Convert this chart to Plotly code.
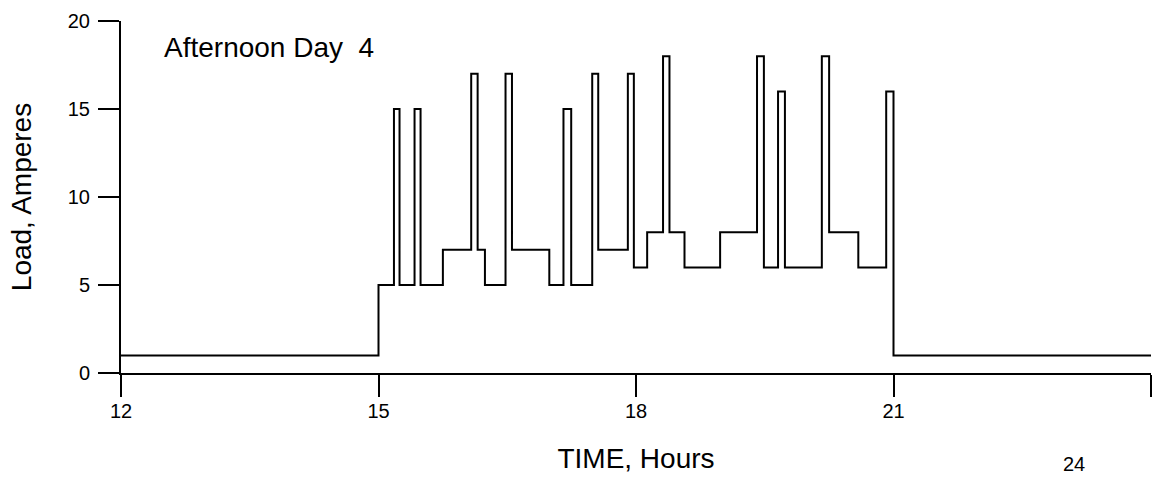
import plotly.graph_objects as go

# Step-change times (hours) and the load level (amperes) that starts at each time
times = [12, 15.0, 15.18, 15.245, 15.42, 15.49, 15.75, 16.08, 16.155, 16.24,
         16.48, 16.555, 16.99, 17.155, 17.245, 17.49, 17.56, 17.905, 17.975,
         18.13, 18.315, 18.39, 18.565, 18.98, 19.41, 19.49, 19.655, 19.735,
         20.165, 20.25, 20.59, 20.915, 21.0, 24]
loads = [1, 5, 15, 5, 15, 5, 7, 17, 7, 5,
         17, 7, 5, 15, 5, 17, 7, 17, 6,
         8, 18, 8, 6, 8, 18, 6, 16, 6,
         18, 8, 6, 16, 1, 1]

x_tickvals = [12, 15, 18, 21, 24]
x_ticktext = ["12", "15", "18", "21", ""]
y_tickvals = [0, 5, 10, 15, 20]

FONT = "Liberation Sans, Arial, Helvetica, sans-serif"

fig = go.Figure()
fig.add_trace(go.Scatter(
    x=times, y=loads, mode="lines", line=dict(shape="hv", color="black", width=2),
    showlegend=False, hoverinfo="skip"))

fig.update_layout(
    width=1154, height=477,
    margin=dict(l=121, r=3, t=21, b=104),
    paper_bgcolor="white", plot_bgcolor="white",
    font=dict(family=FONT, color="black"),
    xaxis=dict(
        range=[12, 24], tickvals=x_tickvals, ticktext=x_ticktext,
        ticks="outside", ticklen=22, tickwidth=2, tickcolor="black",
        showline=True, linecolor="black", linewidth=2,
        showgrid=False, zeroline=False,
        tickfont=dict(size=20, family=FONT), ticklabelstandoff=-3,
        title=dict(text="TIME, Hours", font=dict(size=28, family=FONT), standoff=27),
    ),
    yaxis=dict(
        range=[0, 20], tickvals=y_tickvals,
        ticks="outside", ticklen=21, tickwidth=2, tickcolor="black",
        showline=True, linecolor="black", linewidth=2,
        showgrid=False, zeroline=False,
        tickfont=dict(size=20, family=FONT), ticklabelstandoff=4,
        title=dict(text="Load, Amperes", font=dict(size=28, family=FONT), standoff=28),
    ),
    annotations=[
        dict(text="Afternoon Day\u00a0\u00a04", x=0.04, y=0.925, xref="paper", yref="paper",
             xanchor="left", yanchor="middle", showarrow=False,
             font=dict(size=28, family=FONT)),
        dict(text="24", x=(1074 - 121) / 1030, y=(373 - 477) / 352, xref="paper", yref="paper",
             xanchor="center", yanchor="bottom", showarrow=False,
             font=dict(size=20, family=FONT)),
    ],
)

fig.write_html("out.html")
